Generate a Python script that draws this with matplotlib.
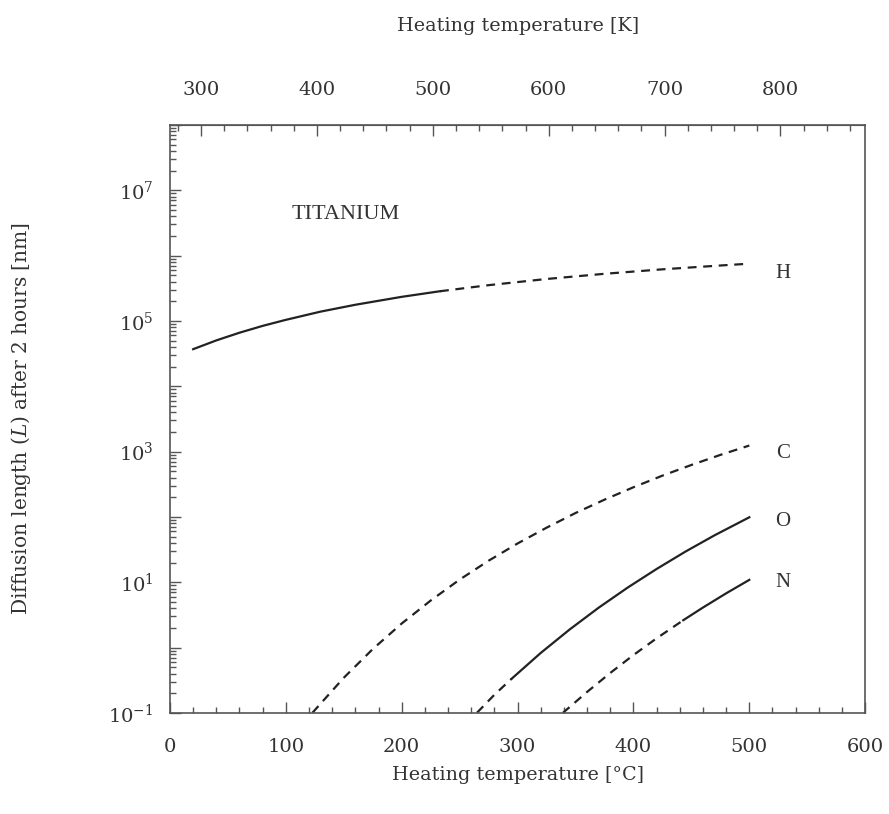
import numpy as np
import matplotlib
matplotlib.use("Agg")
import matplotlib.pyplot as plt
from matplotlib.ticker import FixedLocator, MultipleLocator, LogLocator, NullFormatter

plt.rcParams["mathtext.fontset"] = "dejavuserif"

# Diffusion length L [nm] after 2 hours in titanium
h_solid_c = [20, 40, 60, 80, 100, 130, 160, 200, 233]
h_solid_l = [3.70e4, 5.04e4, 6.61e4, 8.41e4, 1.04e5, 1.39e5, 1.77e5, 2.34e5, 2.85e5]
h_dash_c = [233, 275, 325, 375, 425, 475, 495]
h_dash_l = [2.85e5, 3.53e5, 4.39e5, 5.27e5, 6.17e5, 7.06e5, 7.43e5]

c_dash_c = [123, 150, 175, 200, 225, 250, 275, 300, 325, 350, 375, 400, 425, 450, 475, 500]
c_dash_l = [0.101, 0.346, 0.95, 2.34, 5.26, 11.0, 21.4, 39.3, 68.5, 115, 184, 285, 429, 625, 891, 1240]

o_dash_c = [265, 280, 295]
o_dash_l = [0.101, 0.19, 0.336]
o_solid_c = [295, 320, 345, 370, 395, 420, 445, 470, 500]
o_solid_l = [0.336, 0.83, 1.90, 4.09, 8.3, 16.0, 29.6, 52.4, 98.9]

n_dash_c = [339, 360, 380, 400, 420, 443]
n_dash_l = [0.1, 0.21, 0.41, 0.77, 1.39, 2.63]
n_solid_c = [443, 460, 480, 500]
n_solid_l = [2.63, 4.11, 6.78, 10.9]

ELEMENTS = ["H", "C", "O", "N"]
ELEMENT_Y = [5.4e5, 950, 85, 10]

INK = "#222222"
SPINE = "#555555"
TEXT = "#333333"
SERIF = ["DejaVu Serif"]

fig = plt.figure(figsize=(8.89, 8.14), dpi=100)
ax = fig.add_axes([0.1912, 0.1241, 0.782, 0.7224])

lw = 1.6
ax.plot(h_solid_c, h_solid_l, color=INK, lw=lw)
ax.plot(h_dash_c, h_dash_l, color=INK, lw=lw, dashes=(4, 3))
ax.plot(c_dash_c, c_dash_l, color=INK, lw=lw, dashes=(4, 3))
ax.plot(o_dash_c, o_dash_l, color=INK, lw=lw, dashes=(4, 3))
ax.plot(o_solid_c, o_solid_l, color=INK, lw=lw)
ax.plot(n_dash_c, n_dash_l, color=INK, lw=lw, dashes=(4, 3))
ax.plot(n_solid_c, n_solid_l, color=INK, lw=lw)

ax.set_yscale("log")
ax.set_xlim(0, 600)
ax.set_ylim(1e-1, 1e8)

for s in ax.spines.values():
    s.set_color(SPINE)
    s.set_linewidth(1.2)

ax.xaxis.set_major_locator(MultipleLocator(100))
ax.xaxis.set_minor_locator(MultipleLocator(20))
ax.yaxis.set_major_locator(FixedLocator([10.0 ** e for e in range(-1, 9)]))
ax.yaxis.set_minor_locator(LogLocator(base=10, subs=np.arange(2, 10), numticks=20))
ax.yaxis.set_minor_formatter(NullFormatter())
ax.set_yticklabels([r"$10^{%d}$" % e if e % 2 else "" for e in range(-1, 9)])

ax.tick_params(axis="both", which="major", direction="in", length=8, width=1,
               color=SPINE, labelsize=14, labelcolor=TEXT)
ax.tick_params(axis="both", which="minor", direction="in", length=4, width=1,
               color=SPINE)
ax.tick_params(axis="x", which="both", top=False, pad=18)
ax.tick_params(axis="y", which="both", right=False, pad=12)
for lab in ax.get_xticklabels() + ax.get_yticklabels():
    lab.set_family(SERIF)

ax.set_xlabel("Heating temperature [°C]", fontsize=13.8, color=TEXT,
              family=SERIF, labelpad=7)
ax.set_ylabel("Diffusion length ($\\it{L}$) after 2 hours [nm]", fontsize=14.5,
              color=TEXT, family=SERIF, labelpad=54)

top = ax.secondary_xaxis("top", functions=(lambda c: c + 273.15, lambda k: k - 273.15))
top.xaxis.set_major_locator(FixedLocator([300, 400, 500, 600, 700, 800]))
top.xaxis.set_minor_locator(MultipleLocator(20))
top.tick_params(axis="x", which="major", direction="in", length=8, width=1,
                color=SPINE, labelsize=14, labelcolor=TEXT, pad=19)
top.tick_params(axis="x", which="minor", direction="in", length=4, width=1, color=SPINE)
for lab in top.xaxis.get_ticklabels():
    lab.set_family(SERIF)
top.set_xlabel("Heating temperature [K]", fontsize=13.8, color=TEXT,
               family=SERIF, labelpad=36)
top.spines["top"].set_color(SPINE)

ax.text(152, 4.2e6, "TITANIUM", fontsize=16, color=TEXT,
        family=["Liberation Serif"], ha="center", va="center")
for name, yv in zip(ELEMENTS, ELEMENT_Y):
    ax.text(529, yv, name, fontsize=15, color=TEXT,
            family=["Liberation Serif"], ha="center", va="center")

fig.savefig("out.png", dpi=100)
